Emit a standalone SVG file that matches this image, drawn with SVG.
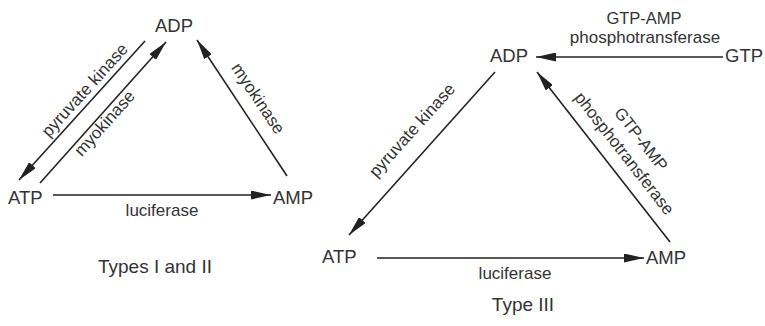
<svg xmlns="http://www.w3.org/2000/svg" width="765" height="326" viewBox="0 0 765 326">
<defs>
<style>
text{font-family:"Liberation Sans",Arial,sans-serif;fill:#333}
.n{font-size:18.5px}
.l{font-size:17px}
.t{font-size:19px}
.c line{stroke:#222;stroke-width:1.6;marker-end:url(#ah)}
</style>
<marker id="ah" markerWidth="20" markerHeight="9" refX="20" refY="4.5" orient="auto" markerUnits="userSpaceOnUse">
<path d="M0,0 L20,4.5 L0,9 z" fill="#222"/>
</marker>
</defs>
<rect width="765" height="326" fill="#fff"/>
<g id="connectors" class="c">
<line x1="53" y1="195" x2="271" y2="195"/>
<line x1="145" y1="41" x2="19" y2="180"/>
<line x1="40" y1="183" x2="166" y2="42"/>
<line x1="287" y1="176" x2="197" y2="40"/>
<line x1="723" y1="57" x2="536" y2="57"/>
<line x1="495" y1="72" x2="349" y2="235"/>
<line x1="670" y1="242" x2="537" y2="72"/>
<line x1="377" y1="258" x2="644" y2="258"/>
</g>
<g id="edge-labels" class="l">
<text x="162" y="216" text-anchor="middle">luciferase</text>
<g transform="translate(82,110.5) rotate(-47.8)"><text x="17" y="-6" text-anchor="middle">pyruvate kinase</text></g>
<g transform="translate(103,112.5) rotate(-48.2)"><text x="-7" y="14" text-anchor="middle">myokinase</text></g>
<g transform="translate(242,108) rotate(56.2)"><text x="1" y="-13" text-anchor="middle">myokinase</text></g>
<text x="644" y="24" text-anchor="middle" style="font-size:16.5px">GTP-AMP</text>
<text x="645" y="43" text-anchor="middle">phosphotransferase</text>
<g transform="translate(421.5,153.5) rotate(-48)"><text x="11" y="-17" text-anchor="middle">pyruvate kinase</text></g>
<g transform="translate(603.5,157) rotate(52)"><text x="10" y="-13" text-anchor="middle">phosphotransferase</text><text x="9" y="-35" text-anchor="middle" style="font-size:16.5px">GTP-AMP</text></g>
<text x="515" y="279" text-anchor="middle">luciferase</text>
</g>
<g id="ADP1"><text class="n" x="174" y="32" text-anchor="middle">ADP</text></g>
<g id="ATP1"><text class="n" x="8" y="204">ATP</text></g>
<g id="AMP1"><text class="n" x="273" y="204">AMP</text></g>
<g id="ADP3"><text class="n" x="490" y="62">ADP</text></g>
<g id="GTP3"><text class="n" x="725" y="62">GTP</text></g>
<g id="ATP3"><text class="n" x="322" y="263">ATP</text></g>
<g id="AMP3"><text class="n" x="646" y="264">AMP</text></g>
<g id="captions">
<text class="t" x="155" y="273" text-anchor="middle">Types I and II</text>
<text class="t" x="523" y="311" text-anchor="middle">Type III</text>
</g>
</svg>
